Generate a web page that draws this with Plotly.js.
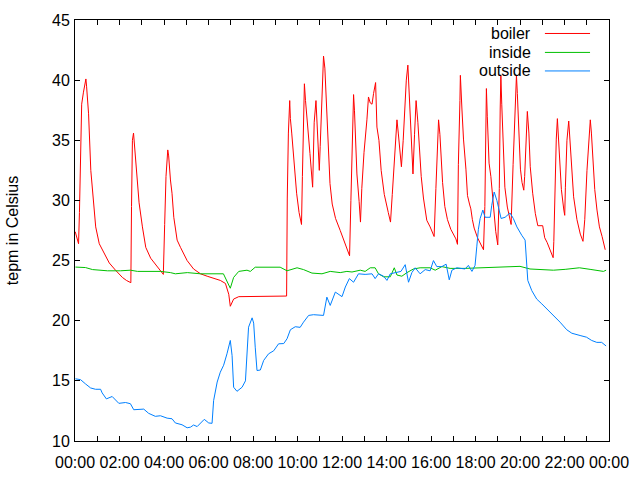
<!DOCTYPE html>
<html>
<head>
<meta charset="utf-8">
<script src="https://cdn.plot.ly/plotly-3.0.1.min.js"></script>
<style>html,body{margin:0;padding:0;background:#fff}#chart{width:640px;height:480px}</style>
</head>
<body>
<div id="chart"></div>
<script>
// ---- data (hours since midnight, temperature in Celsius) ----
var boilerHours = [0.01,0.09,0.16,0.2,0.25,0.3,0.38,0.45,0.49,0.52,0.61,0.71,0.82,0.93,1.09,1.31,1.54,1.82,2.13,2.31,2.51,
  2.54,2.58,2.63,2.67,2.73,2.88,3.03,3.18,3.40,3.70,3.97,
  4.03,4.09,4.17,4.21,4.29,4.36,4.44,4.59,4.74,5.04,5.33,5.64,5.94,6.23,6.53,6.76,6.91,6.98,7.13,7.36,8.0,9.0,9.51,
  9.54,9.59,9.65,9.68,9.74,9.82,9.96,10.07,10.18,10.22,10.26,10.31,10.36,10.45,10.56,10.68,10.75,10.83,10.89,10.98,
  11.02,11.08,11.17,11.23,11.28,11.35,11.46,11.56,11.71,11.92,12.15,12.34,12.40,12.46,12.52,12.56,12.61,12.67,12.77,12.83,
  12.89,12.99,13.12,13.19,13.27,13.35,13.42,13.51,13.57,13.66,13.76,13.90,14.08,14.18,14.26,14.35,14.47,14.53,14.58,14.67,
  14.75,14.81,14.89,14.96,15.0,15.06,15.19,15.26,15.33,15.41,15.48,15.56,15.66,15.81,15.96,16.14,16.22,16.28,16.34,16.40,
  16.46,16.52,16.62,16.74,16.89,17.12,17.19,17.23,17.30,17.32,17.39,17.46,17.57,17.64,17.73,17.79,17.86,17.94,18.09,18.24,
  18.36,18.42,18.46,18.49,18.53,18.61,18.69,18.84,18.91,19.0,19.07,19.11,19.14,19.18,19.25,19.32,19.43,19.6,19.69,19.78,
  19.84,19.88,19.95,20.02,20.09,20.17,20.21,20.28,20.33,20.40,20.46,20.57,20.69,20.80,21.02,21.11,21.22,21.37,21.49,21.52,
  21.59,21.63,21.68,21.72,21.79,21.86,21.97,22.01,22.04,22.11,22.19,22.23,22.31,22.41,22.56,22.71,22.83,22.91,23.01,23.09,
  23.16,23.21,23.27,23.36,23.46,23.57,23.69,23.83];
var boilerTemps = [27.4,26.8,26.4,29,33,38.0,39.0,39.6,40.1,39.5,37.2,32.5,29.8,27.8,26.4,25.6,24.8,24.2,23.6,23.35,23.16,
  29.5,35.0,35.6,34.7,33.1,29.8,27.8,26.1,25.2,24.5,23.85,
  28,32,34.2,33.7,31.7,30.6,28.6,26.7,26.1,25.0,24.3,23.9,23.7,23.5,23.35,23.1,22.2,21.2,21.8,22.0,22.0,22.05,22.05,
  30.2,35.6,38.3,36.8,35.6,33.8,30.6,29.0,28.0,32.0,36.0,39.7,38.3,36.0,33.9,31.1,36.5,38.3,36.0,32.5,
  34.5,38.3,42.0,41.0,39.0,35.6,31.4,29.7,28.5,27.5,26.4,25.4,30.0,34.5,38.8,37.5,35.0,32.2,29.9,28.2,
  31.0,34.0,36.7,38.6,38.1,38.0,38.9,39.8,36.1,35.0,32.5,30.5,29.0,28.2,30.5,33.5,36.7,35.6,34.5,32.8,
  35.0,37.5,40.0,41.25,39.5,37.0,32.2,35.5,38.3,36.5,34.5,32.0,30.2,28.35,27.8,27.0,31.0,34.0,36.7,35.5,
  33.5,31.5,29.5,28.4,27.6,26.8,26.35,33.0,38.3,40.4,37.6,35.1,32.6,30.4,29.7,29.3,28.4,27.7,26.9,26.3,
  25.9,29.5,37.0,39.3,37.0,33.1,32.0,28.5,27.4,26.3,31.0,37.6,40.4,38.0,33.8,31.1,29.45,28.0,33.0,38.5,
  40.4,38.9,35.6,32.6,31.5,30.85,32.0,35.9,37.4,35.6,32.8,30.6,28.9,27.9,27.9,26.9,26.5,25.8,25.24,26.6,
  32.5,35.1,36.8,35.6,33.1,30.9,29.2,28.76,31.1,35.0,36.6,35.6,33.1,30.3,28.4,27.2,26.6,28.4,32.5,35.3,
  36.7,35.6,33.4,30.9,29.2,27.8,27.0,25.9];

var insideHours = [0.02,0.47,0.79,1.46,2.04,2.49,2.81,3.84,4.29,4.51,5.05,5.64,6.67,6.98,7.13,7.36,7.73,7.88,8.1,9.22,
  9.53,9.98,10.27,10.65,11.1,11.47,11.92,12.22,12.45,12.82,13.04,13.27,13.49,13.64,13.87,14.17,14.35,14.47,14.69,14.92,
  15.21,15.51,15.96,16.19,16.49,16.86,17.53,18.21,18.96,20.0,20.45,21.05,21.5,22.03,22.67,23.15,23.75,23.87];
var insideTemps = [24.46,24.42,24.25,24.15,24.15,24.2,24.1,24.1,24.0,23.9,24.0,23.9,23.9,22.7,23.6,24.1,24.2,24.1,24.45,24.45,
  24.15,24.4,24.25,23.96,23.9,24.1,24.0,24.1,24.05,24.2,24.1,24.4,24.4,23.9,23.65,23.65,24.4,23.8,23.7,24.0,
  24.3,24.4,24.4,24.2,24.5,24.35,24.35,24.4,24.5,24.52,24.3,24.27,24.2,24.27,24.4,24.27,24.1,24.2];

var outsideHours = [0.02,0.25,0.47,0.7,0.92,1.15,1.22,1.41,1.67,1.97,2.27,2.49,2.64,3.09,3.31,3.61,3.84,4.14,4.36,4.51,
  4.81,5.04,5.19,5.33,5.49,5.81,6.01,6.16,6.23,6.39,6.53,6.68,6.83,6.98,7.06,7.13,7.28,7.51,7.66,7.8,
  7.96,8.03,8.1,8.18,8.33,8.48,8.7,8.93,9.15,9.38,9.53,9.68,9.9,10.12,10.27,10.5,10.72,11.02,11.17,11.32,
  11.47,11.7,12.0,12.15,12.33,12.52,12.74,13.04,13.35,13.49,13.64,13.87,14.02,14.17,14.47,14.65,14.84,14.99,15.14,15.29,
  15.51,15.74,15.96,16.11,16.26,16.49,16.68,16.82,16.94,17.16,17.53,17.68,17.84,17.98,18.06,18.13,18.21,18.33,18.43,18.66,
  18.73,18.84,18.96,19.07,19.15,19.33,19.55,19.7,19.86,20.08,20.23,20.31,20.35,20.53,20.75,20.98,21.2,21.5,21.8,22.1,
  22.33,22.7,22.99,23.22,23.45,23.67,23.87];
var outsideTemps = [15.17,15.1,14.75,14.41,14.3,14.3,14.0,13.5,13.7,13.13,13.2,13.1,12.6,12.65,12.3,12.05,12.1,11.9,11.85,11.5,
  11.35,11.1,11.15,11.33,11.2,11.8,11.5,11.47,13.36,14.9,15.72,16.3,17.25,18.36,17.1,14.47,14.13,14.47,15.0,19.46,
  20.24,19.8,17.8,15.86,15.9,16.7,17.25,17.5,18.08,18.1,18.5,19.25,19.5,19.45,19.88,20.44,20.5,20.44,20.44,21.96,
  21.27,22.38,22.0,22.8,23.5,23.2,23.9,23.85,23.9,23.5,23.9,23.7,23.35,23.9,24.0,24.1,24.66,23.2,24.0,24.4,
  23.9,24.25,24.15,25.0,24.5,24.5,24.7,23.4,24.2,24.4,24.3,24.6,24.1,24.6,26.2,27.6,28.5,29.2,28.6,28.6,
  29.6,30.7,30.0,29.2,28.5,28.6,28.96,28.5,27.8,27.1,26.7,24.46,23.35,22.5,21.8,21.4,21.0,20.44,19.88,19.25,
  18.96,18.77,18.63,18.36,18.2,18.2,17.9];

var seriesNames = ["boiler", "inside", "outside"];
var seriesColors = ["#ff0000", "#00c000", "#0080ff"];
var tickHours = [0,1,2,3,4,5,6,7,8,9,10,11,12,13,14,15,16,17,18,19,20,21,22,23,24];
var tickLabels = ["00:00","","02:00","","04:00","","06:00","","08:00","","10:00","","12:00","","14:00","","16:00","","18:00","","20:00","","22:00","","00:00"];
var yTitle = "tepm in Celsius";

var xs = [boilerHours, insideHours, outsideHours];
var ys = [boilerTemps, insideTemps, outsideTemps];
var traces = seriesNames.map(function(n, i){
  return {x: xs[i], y: ys[i], type: "scatter", mode: "lines", name: n,
          line: {color: seriesColors[i], width: 1}, showlegend: false};
});

var FONT = "Liberation Sans, Arial, sans-serif";
// custom gnuplot-style legend (text right-aligned, line sample to the right)
var legendY = [0.968, 0.923, 0.879];
var annotations = seriesNames.map(function(n, i){
  return {xref: "paper", yref: "paper", x: 0.857, y: legendY[i], xanchor: "right", yanchor: "middle",
          text: n, showarrow: false, font: {family: FONT, size: 16, color: "#000"}};
});
var shapes = seriesNames.map(function(n, i){
  return {type: "line", xref: "paper", yref: "paper", x0: 0.880, x1: 0.9645, y0: legendY[i], y1: legendY[i],
          line: {color: seriesColors[i], width: 1}};
});

var layout = {
  width: 640, height: 480,
  margin: {l: 75, r: 31, t: 20, b: 39},
  paper_bgcolor: "#fff", plot_bgcolor: "#fff",
  font: {family: FONT, size: 16, color: "#000"},
  showlegend: false,
  xaxis: {range: [0, 24], tickvals: tickHours, ticktext: tickLabels, ticks: "inside", ticklen: 5,
          tickcolor: "#000", showline: true, linecolor: "#000", linewidth: 1, mirror: "ticks",
          showgrid: false, zeroline: false, tickfont: {family: FONT, size: 16}, ticklabelstandoff: 7},
  yaxis: {range: [10, 45], dtick: 5, tick0: 10, ticks: "inside", ticklen: 5,
          tickcolor: "#000", showline: true, linecolor: "#000", linewidth: 1, mirror: "ticks",
          showgrid: false, zeroline: false, tickfont: {family: FONT, size: 16}, ticklabelstandoff: 1,
          title: {text: yTitle, font: {family: FONT, size: 16}, standoff: 29}},
  annotations: annotations,
  shapes: shapes
};

Plotly.newPlot("chart", traces, layout, {staticPlot: true, displayModeBar: false});
</script>
</body>
</html>
